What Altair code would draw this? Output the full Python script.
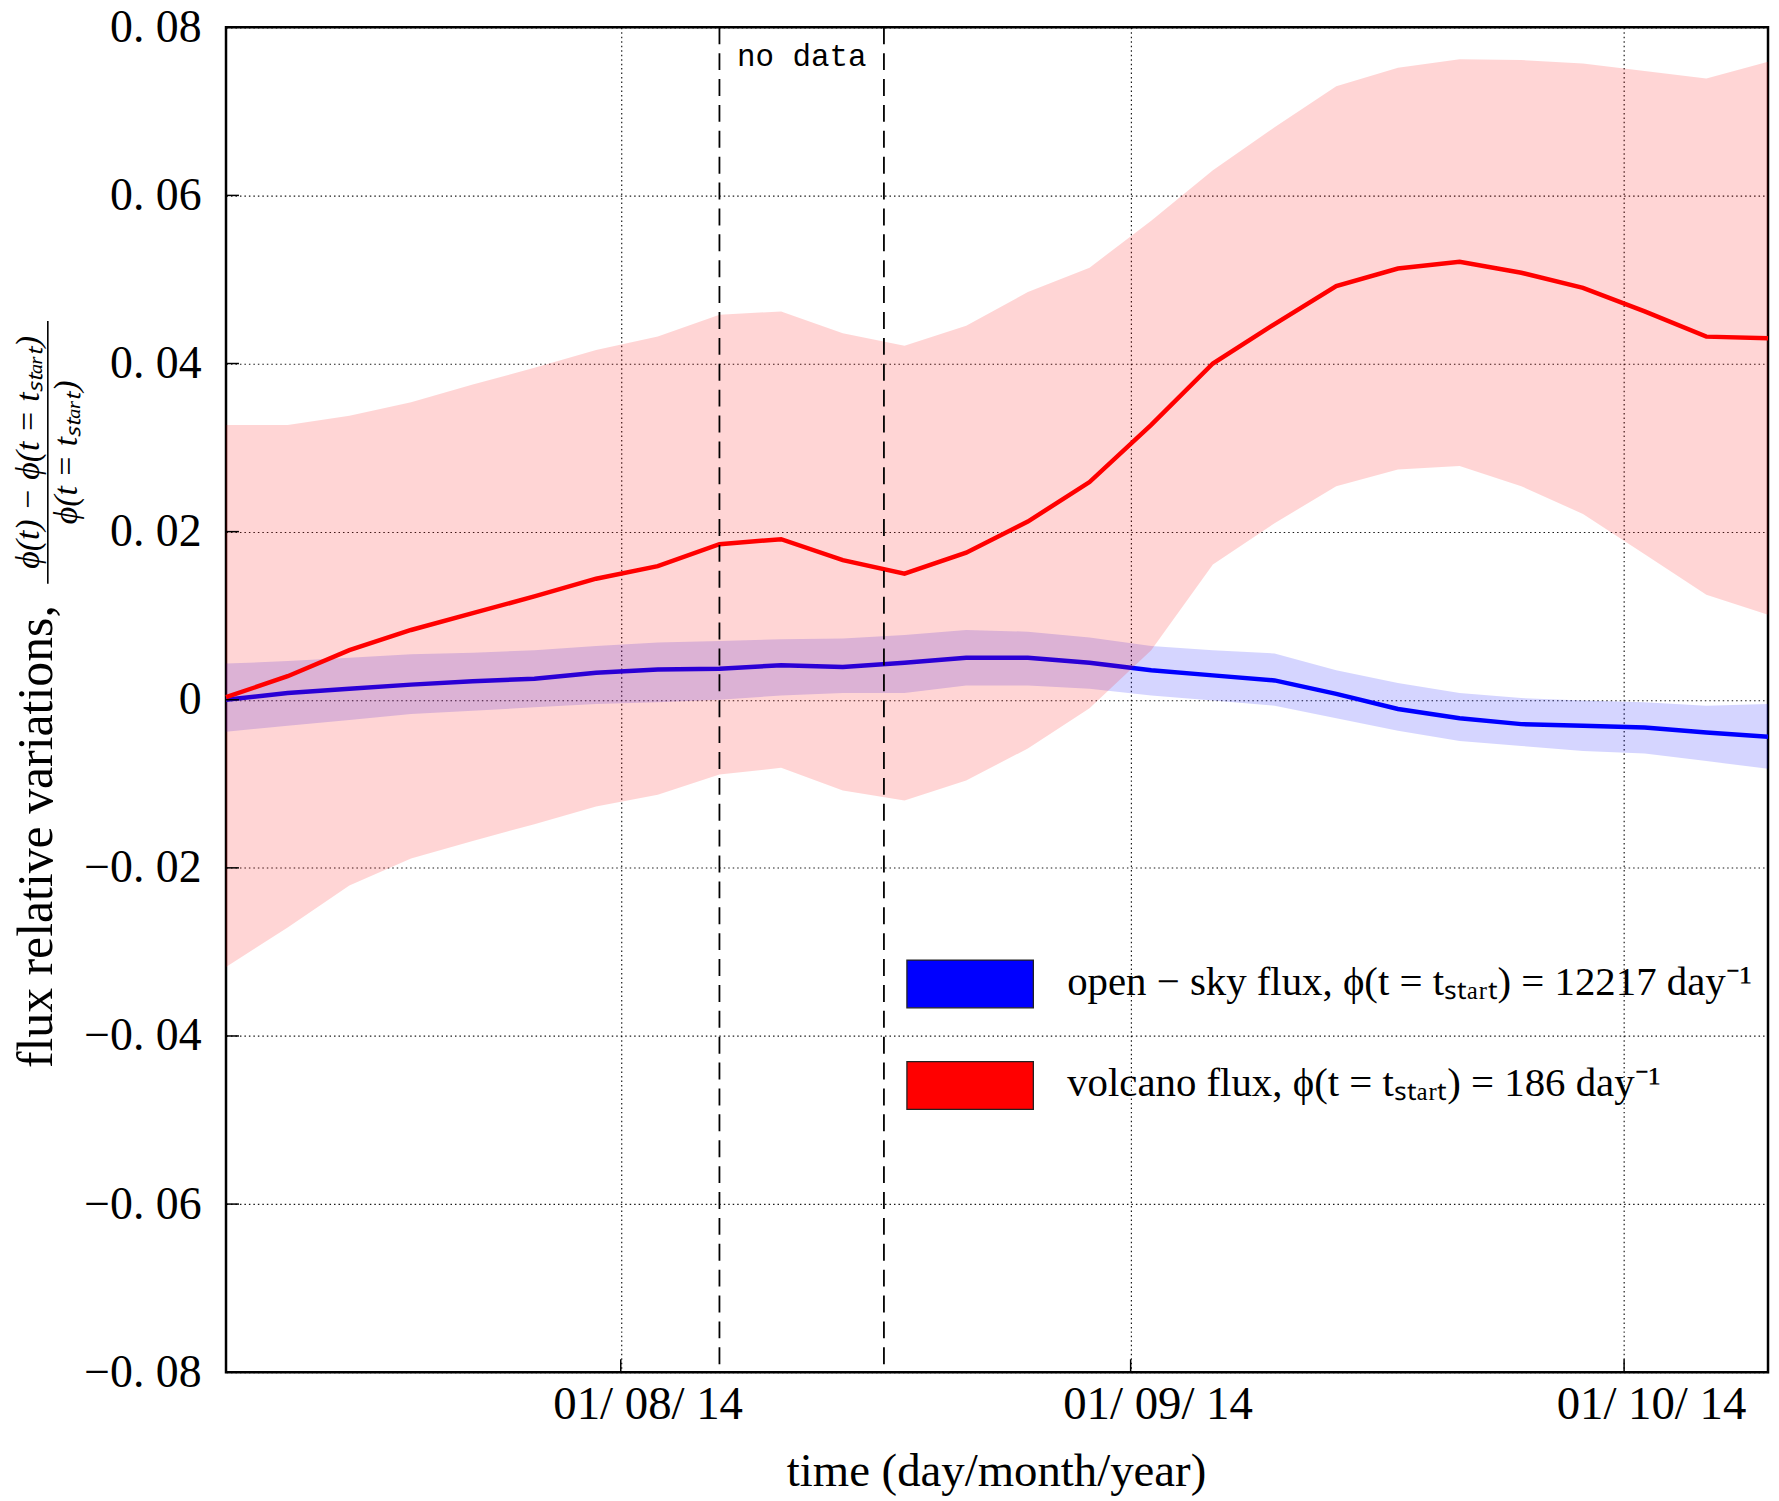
import altair as alt
import pandas as pd

# ---------------- data ----------------
dates = [
    "2014-07-08T00:00:00Z", "2014-07-11T18:00:00Z", "2014-07-15T12:00:00Z", "2014-07-19T06:00:00Z",
    "2014-07-23T00:00:00Z", "2014-07-26T18:00:00Z", "2014-07-30T12:00:00Z", "2014-08-03T06:00:00Z",
    "2014-08-07T00:00:00Z", "2014-08-10T18:00:00Z", "2014-08-14T12:00:00Z", "2014-08-18T06:00:00Z",
    "2014-08-22T00:00:00Z", "2014-08-25T18:00:00Z", "2014-08-29T12:00:00Z", "2014-09-02T06:00:00Z",
    "2014-09-06T00:00:00Z", "2014-09-09T18:00:00Z", "2014-09-13T12:00:00Z", "2014-09-17T06:00:00Z",
    "2014-09-21T00:00:00Z", "2014-09-24T18:00:00Z", "2014-09-28T12:00:00Z", "2014-10-02T06:00:00Z",
    "2014-10-06T00:00:00Z", "2014-10-09T18:00:00Z",
]

volcano_mean = [0.0003, 0.0028, 0.0059, 0.0083, 0.0103, 0.0123, 0.0144, 0.0159, 0.0185, 0.0191,
                0.0166, 0.0150, 0.0175, 0.0212, 0.0259, 0.0327, 0.0400, 0.0447, 0.0492, 0.0513,
                0.0521, 0.0508, 0.0490, 0.0462, 0.0432, 0.0430]
volcano_high = [0.0327, 0.0327, 0.0338, 0.0354, 0.0375, 0.0395, 0.0416, 0.0432, 0.0458, 0.0462,
                0.0436, 0.0421, 0.0445, 0.0485, 0.0514, 0.0570, 0.0630, 0.0681, 0.0730, 0.0752,
                0.0762, 0.0761, 0.0757, 0.0748, 0.0739, 0.0759]
volcano_low = [-0.0318, -0.0271, -0.0221, -0.0189, -0.0168, -0.0148, -0.0127, -0.0113, -0.0089, -0.0081,
               -0.0108, -0.0120, -0.0096, -0.0058, -0.0010, 0.0059, 0.0161, 0.0210, 0.0254, 0.0274,
               0.0278, 0.0254, 0.0221, 0.0173, 0.0125, 0.0101]

sky_mean = [0.0000, 0.0008, 0.0013, 0.0018, 0.0022, 0.0025, 0.0032, 0.0036, 0.0037, 0.0041,
            0.0039, 0.0044, 0.0050, 0.0050, 0.0044, 0.0035, 0.0029, 0.0023, 0.0007, -0.0011,
            -0.0022, -0.0029, -0.0031, -0.0033, -0.0039, -0.0044]
sky_high = [0.0043, 0.0046, 0.0050, 0.0054, 0.0056, 0.0059, 0.0064, 0.0068, 0.0070, 0.0072,
            0.0073, 0.0077, 0.0083, 0.0081, 0.0074, 0.0064, 0.0059, 0.0055, 0.0035, 0.0020,
            0.0008, 0.0002, -0.0001, -0.0003, -0.0007, -0.0005]
sky_low = [-0.0038, -0.0031, -0.0024, -0.0017, -0.0013, -0.0009, -0.0005, -0.0003, 0.0000, 0.0005,
           0.0008, 0.0008, 0.0017, 0.0017, 0.0013, 0.0005, -0.0001, -0.0007, -0.0022, -0.0037,
           -0.0049, -0.0055, -0.0061, -0.0064, -0.0073, -0.0082]

y_ticks = [-0.08, -0.06, -0.04, -0.02, 0, 0.02, 0.04, 0.06, 0.08]
x_tick_dates = ["2014-08-01T00:00:00Z", "2014-09-01T00:00:00Z", "2014-10-01T00:00:00Z"]
no_data_bounds = ["2014-08-07T00:00:00Z", "2014-08-17T00:00:00Z"]
no_data_center = ["2014-08-12T00:00:00Z"]
no_data_label = ["no data"]

legend_labels = [
    "open \u2212 sky flux,  \u03d5(t = t\u209b\u209c\u2090\u1d63\u209c) = 12217 day\u207b\u00b9",
    "volcano flux,  \u03d5(t = t\u209b\u209c\u2090\u1d63\u209c) = 186 day\u207b\u00b9",
]
legend_colors = ["#0000ff", "#ff0000"]

x_title = "time (day/month/year)"
y_title = "flux relative variations,"
y_frac_num = "\u03d5(t) \u2212 \u03d5(t = t\u209b\u209c\u2090\u1d63\u209c)"
y_frac_den = "\u03d5(t = t\u209b\u209c\u2090\u1d63\u209c)"

# ---------------- helpers ----------------
def ms(s):
    return int(pd.Timestamp(s).value // 10**6)

TOP = 16
W, H = 1549, 1375 - 8 - TOP
FONT = "Liberation Serif"

df = pd.DataFrame({
    "date": dates,
    "v_mean": volcano_mean, "v_hi": volcano_high, "v_lo": volcano_low,
    "s_mean": sky_mean, "s_hi": sky_high, "s_lo": sky_low,
})

xscale = alt.Scale(type="utc", domain=[ms(dates[0]), ms(dates[-1])], nice=False)
yscale = alt.Scale(domain=[-0.08, 0.08], nice=False, zero=False)

grid_style = dict(grid=True, gridColor="black", gridDash=[1.5, 3], gridWidth=1.2, gridOpacity=0.9,
                  domain=False, ticks=False, tickSize=0, labelFont=FONT,
                  labelColor="black", labelLimit=500, title=None)

xaxis = alt.Axis(values=[ms(d) for d in x_tick_dates],
                 labelExpr="utcFormat(datum.value, '%d/ %m/ %y')", labelFontSize=47,
                 labelPadding=10, labelOffset=27, labelFlush=False, **grid_style)
yaxis = alt.Axis(values=y_ticks,
                 labelExpr="datum.value == 0 ? '0' : replace(format(datum.value, '.2f'), '.', '. ')",
                 labelFontSize=46, labelPadding=25, **grid_style)

def X(field):
    return alt.X(field, type="temporal", scale=xscale, axis=xaxis)

def Y(field):
    return alt.Y(field, type="quantitative", scale=yscale, axis=yaxis)

base = alt.Chart(df)

sky_band = base.mark_area(color="#0000ff", opacity=0.165).encode(x=X("date"), y=Y("s_lo"), y2="s_hi")
sky_line = base.mark_line(color="#0000ff", strokeWidth=4.5).encode(x=X("date"), y=Y("s_mean"))
vol_band = base.mark_area(color="#ff0000", opacity=0.165).encode(x=X("date"), y=Y("v_lo"), y2="v_hi")
vol_line = base.mark_line(color="#ff0000", strokeWidth=4.5).encode(x=X("date"), y=Y("v_mean"))

nodata_rules = alt.Chart(pd.DataFrame({"d": no_data_bounds})).mark_rule(
    color="black", strokeDash=[17, 9], strokeWidth=1.8
).encode(x=X("d"))

nodata_text = alt.Chart(pd.DataFrame({"d": no_data_center, "t": no_data_label})).mark_text(
    font="Liberation Mono", fontSize=31, color="black", align="center", baseline="alphabetic"
).encode(x=X("d"), y=alt.value(63 - 8 - TOP), text="t:N")

ytick_rules = alt.Chart(pd.DataFrame({"v": y_ticks})).mark_rule(color="black", strokeWidth=1.5).encode(
    y=Y("v"), x=alt.value(0), x2=alt.value(13)
)
xtick_rules = alt.Chart(pd.DataFrame({"d": x_tick_dates})).mark_rule(color="black", strokeWidth=1.5).encode(
    x=X("d"), y=alt.value(H), y2=alt.value(H - 13)
)

# legend (page y of rect tops: 961, 1063)
legend_layers = []
for i, (lab, col) in enumerate(zip(legend_labels, legend_colors)):
    y0 = 961 - 8 - TOP + i * 102
    ldf = pd.DataFrame({"t": [lab], "c": [col]})
    legend_layers.append(
        alt.Chart(ldf).mark_rect(stroke="#222222", strokeWidth=1.3).encode(
            x=alt.value(684), x2=alt.value(811), y=alt.value(y0), y2=alt.value(y0 + 48),
            color=alt.Color("c:N", scale=None)
        )
    )
    legend_layers.append(
        alt.Chart(ldf).mark_text(font=FONT, fontSize=41, color="black", align="left",
                                 baseline="alphabetic").encode(
            x=alt.value(845), y=alt.value(y0 + 35), text="t:N"
        )
    )

# titles
xtitle = alt.Chart(pd.DataFrame({"t": [x_title]})).mark_text(
    font=FONT, fontSize=47, color="black", align="center", baseline="alphabetic"
).encode(x=alt.value(774), y=alt.value(H + 114), text="t:N")

ytitle = alt.Chart(pd.DataFrame({"t": [y_title]})).mark_text(
    font=FONT, fontSize=50, color="black", align="center", baseline="alphabetic", angle=270
).encode(x=alt.value(-175), y=alt.value(837 - 8 - TOP), text="t:N")

ynum = alt.Chart(pd.DataFrame({"t": [y_frac_num]})).mark_text(
    font=FONT, fontSize=34, fontStyle="italic", color="black", align="center",
    baseline="alphabetic", angle=270
).encode(x=alt.value(-188), y=alt.value(451 - 8 - TOP), text="t:N")

yden = alt.Chart(pd.DataFrame({"t": [y_frac_den]})).mark_text(
    font=FONT, fontSize=34, fontStyle="italic", color="black", align="center",
    baseline="alphabetic", angle=270
).encode(x=alt.value(-150), y=alt.value(451 - 8 - TOP), text="t:N")

ybar = alt.Chart(pd.DataFrame({"t": [y_frac_den]})).mark_rule(color="black", strokeWidth=1.6).encode(
    x=alt.value(-179), y=alt.value(319 - 8 - TOP), y2=alt.value(583 - 8 - TOP)
)

chart = alt.layer(
    sky_band, sky_line, vol_band, vol_line, nodata_rules, nodata_text,
    ytick_rules, xtick_rules, *legend_layers, xtitle, ytitle, ynum, yden, ybar
).properties(
    width=W, height=H,
    padding={"left": 219, "top": TOP, "right": 3, "bottom": 125},
    autosize=alt.AutoSizeParams(type="none"),
).configure(
    background="white"
).configure_view(
    stroke="black", strokeWidth=2.5
)

chart.save("out.html", embed_options={"renderer": "svg", "actions": False})
